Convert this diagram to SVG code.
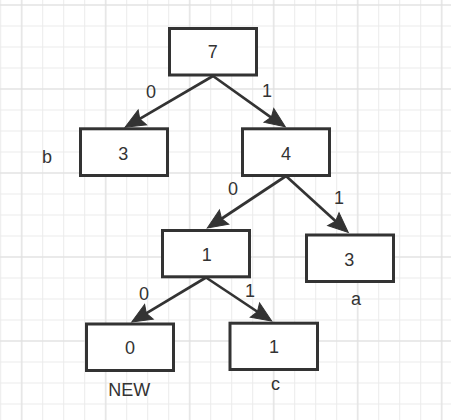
<svg xmlns="http://www.w3.org/2000/svg" xmlns:xlink="http://www.w3.org/1999/xlink" width="451" height="420" viewBox="0 0 451 420">
  <style>
    .node rect { fill: #ffffff; stroke: #333333; stroke-width: 3; }
    text { font-family: "Liberation Sans", Arial, sans-serif; font-size: 18px; fill: #333333; text-anchor: middle; }
    .edge { stroke: #333333; stroke-width: 2.7; fill: none; }
    .head { fill: #333333; stroke: #333333; stroke-width: 1; }
  </style>
  <defs>
    <pattern id="minor" patternUnits="userSpaceOnUse" x="11.2" y="-5.5" width="21" height="21">
      <path d="M10.5,0 V21 M0,10.5 H21" stroke="#ebebeb" stroke-width="1" fill="none"/>
    </pattern>
    <pattern id="major" patternUnits="userSpaceOnUse" x="-20.3" y="-37" width="84" height="84">
      <path d="M42,0 V84 M0,42 H84" stroke="#dfdfdf" stroke-width="1" fill="none"/>
    </pattern>
    <path id="ah" d="M0,0 L-20,-8.5 L-17,0 L-20,8.5 Z"/>
  </defs>
  <rect width="451" height="420" fill="#ffffff"/>
  <rect width="451" height="420" fill="url(#minor)"/>
  <rect width="451" height="420" fill="url(#major)"/>

  <g id="connectors">
    <line class="edge" x1="213" y1="76" x2="135.4" y2="121.3"/>
    <line class="edge" x1="213" y1="76" x2="275.2" y2="120.4"/>
    <line class="edge" x1="286" y1="176" x2="217.4" y2="221.5"/>
    <line class="edge" x1="286" y1="176" x2="339.3" y2="224.5"/>
    <line class="edge" x1="206" y1="277.5" x2="142" y2="315.9"/>
    <line class="edge" x1="206" y1="277.5" x2="261.6" y2="314.5"/>
    <use class="head" href="#ah" xlink:href="#ah" transform="translate(125,127.3) rotate(150.3)"/>
    <use class="head" href="#ah" xlink:href="#ah" transform="translate(285.3,126.8) rotate(34.9)"/>
    <use class="head" href="#ah" xlink:href="#ah" transform="translate(207.3,228) rotate(147)"/>
    <use class="head" href="#ah" xlink:href="#ah" transform="translate(348.3,232.5) rotate(41.7)"/>
    <use class="head" href="#ah" xlink:href="#ah" transform="translate(131.7,322) rotate(149.5)"/>
    <use class="head" href="#ah" xlink:href="#ah" transform="translate(271.7,321) rotate(33)"/>
    <text x="151" y="98.3">0</text>
    <text x="267" y="97.3">1</text>
    <text x="233" y="195">0</text>
    <text x="339" y="204.3">1</text>
    <text x="144" y="300">0</text>
    <text x="250" y="297.3">1</text>
  </g>

  <g id="node-root" class="node">
    <rect x="169.5" y="28.5" width="87" height="46.5"/>
    <text x="212.7" y="58.3">7</text>
  </g>
  <g id="node-b" class="node">
    <rect x="80.5" y="128.8" width="87" height="46.7"/>
    <text x="123.3" y="159.5">3</text>
    <text x="47" y="163.3">b</text>
  </g>
  <g id="node-4" class="node">
    <rect x="242.5" y="128.8" width="87" height="46.7"/>
    <text x="286" y="159.5">4</text>
  </g>
  <g id="node-1" class="node">
    <rect x="162.5" y="230.5" width="87" height="46.3"/>
    <text x="206.7" y="260.7">1</text>
  </g>
  <g id="node-a" class="node">
    <rect x="306.5" y="235" width="87" height="46.5"/>
    <text x="349.3" y="265.7">3</text>
    <text x="356" y="305">a</text>
  </g>
  <g id="node-new" class="node">
    <rect x="86.5" y="324" width="87" height="46.5"/>
    <text x="130" y="354.3">0</text>
    <text x="129.3" y="396">NEW</text>
  </g>
  <g id="node-c" class="node">
    <rect x="230" y="323.2" width="87.5" height="46.3"/>
    <text x="274" y="353.3">1</text>
    <text x="275.5" y="390">c</text>
  </g>
</svg>
